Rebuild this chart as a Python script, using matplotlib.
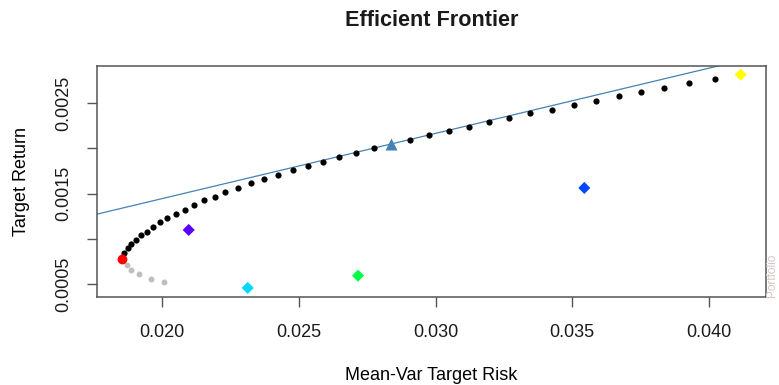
import numpy as np
import matplotlib
matplotlib.use('Agg')
import matplotlib.pyplot as plt

# efficient part of the frontier (risk, return)
frontier_risk = [0.018611, 0.018746, 0.018878, 0.019049, 0.019221, 0.019441, 0.019682,
                 0.019938, 0.020194, 0.020501, 0.020841, 0.021181, 0.021525, 0.021938,
                 0.022314, 0.022779, 0.023254, 0.023718, 0.024230, 0.024779, 0.025338,
                 0.025876, 0.026472, 0.027104, 0.027762, 0.029068, 0.029773, 0.030505,
                 0.031225, 0.031956, 0.032698, 0.033455, 0.034270, 0.035075, 0.035857,
                 0.036698, 0.037503, 0.038355, 0.039258, 0.040219]
frontier_return = [0.000846, 0.000898, 0.000943, 0.000990, 0.001042, 0.001079, 0.001131,
                   0.001183, 0.001234, 0.001271, 0.001322, 0.001374, 0.001426, 0.001463,
                   0.001515, 0.001566, 0.001618, 0.001659, 0.001710, 0.001762, 0.001809,
                   0.001850, 0.001902, 0.001953, 0.002005, 0.002094, 0.002146, 0.002197,
                   0.002238, 0.002290, 0.002337, 0.002390, 0.002429, 0.002481, 0.002529,
                   0.002584, 0.002622, 0.002673, 0.002725, 0.002772]

# inefficient part (below the minimum variance point)
lower_risk = [0.018709, 0.018878, 0.019170, 0.019598, 0.020073]
lower_return = [0.000710, 0.000655, 0.000607, 0.000555, 0.000519]

minvar_risk = 0.018527
minvar_return = 0.000777

tangency_risk = 0.028384
tangency_return = 0.002050
risk_free = 0.0

# single assets
asset_risk = [0.020976, 0.023133, 0.027166, 0.035441, 0.041159]
asset_return = [0.001098, 0.000456, 0.000592, 0.001563, 0.002817]
asset_colors = ['#5a00ff', '#00d9ff', '#00ff44', '#0047ff', '#ffff00']

x_ticks = [0.020, 0.025, 0.030, 0.035, 0.040]
y_ticks = [0.0005, 0.0010, 0.0015, 0.0020, 0.0025]
y_ticklabels = ['0.0005', '', '0.0015', '', '0.0025']

plt.rcParams['font.family'] = ['Liberation Sans', 'DejaVu Sans']
plt.rcParams['text.color'] = '#1a1a1a'

W, H = 779, 385
fig = plt.figure(figsize=(W / 100, H / 100), dpi=100)
L, R, T, B = 97.3, 765.7, 65.7, 296.7
ax = fig.add_axes([L / W, 1 - B / H, (R - L) / W, (B - T) / H])

ax.axline((0, risk_free), (tangency_risk, tangency_return), color='#4682b4', lw=0.9, zorder=1)
ax.scatter(lower_risk, lower_return, s=18, color='#bebebe', zorder=2, linewidths=0)
ax.scatter(frontier_risk, frontier_return, s=20, color='black', zorder=3, linewidths=0)
ax.scatter([minvar_risk], [minvar_return], s=50, color='red', zorder=4, linewidths=0)
ax.scatter([tangency_risk], [tangency_return], s=75, marker='^', color='#4682b4',
           zorder=4, linewidths=0)
ax.scatter(asset_risk, asset_return, s=38, marker='D', c=asset_colors, zorder=4, linewidths=0)

ax.set_xlim(0.017634, 0.042073)
ax.set_ylim(0.000359, 0.002916)
ax.set_xticks(x_ticks)
ax.set_xticklabels(['%.3f' % v for v in x_ticks])
ax.set_yticks(y_ticks)
ax.set_yticklabels(y_ticklabels, rotation=90, va='center')

for s in ax.spines.values():
    s.set_color('#555555')
    s.set_linewidth(1.1)
ax.tick_params(axis='both', length=7.3, width=1.0, color='#555555', labelsize=13,
               labelcolor='#1a1a1a')
ax.tick_params(axis='x', pad=12)
ax.tick_params(axis='y', pad=11)

ax.set_xlabel('Mean-Var Target Risk', fontsize=13, va='center')
ax.xaxis.set_label_coords(0.5, (B - 376) / (B - T))
ax.set_ylabel('Target Return', fontsize=13, va='center')
ax.yaxis.set_label_coords((21.7 - L) / (R - L), 0.5)

fig.text(431.5 / W, 1 - 21 / H, 'Efficient Frontier', fontsize=15.6, fontweight='bold',
         ha='center', va='center')

# faint margin text at the right edge
fig.text(772.5 / W, 1 - 297 / H, 'Portfolio', rotation=90, fontsize=8.5, color='#d9c4c4',
         ha='center', va='bottom')

fig.savefig('out.png', dpi=100)
